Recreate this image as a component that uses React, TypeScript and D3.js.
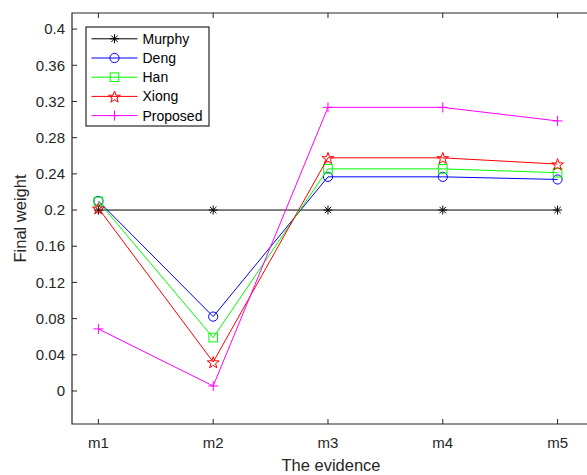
import React from "react";
import * as d3 from "d3";

// Evidence labels and final weights of each method
const evidence = ["m1", "m2", "m3", "m4", "m5"];
const murphy = [0.2, 0.2, 0.2, 0.2, 0.2];
const deng = [0.21, 0.0822, 0.2367, 0.2367, 0.2338];
const han = [0.2095, 0.059, 0.2455, 0.2455, 0.2413];
const xiong = [0.202, 0.032, 0.2577, 0.2577, 0.2508];
const proposed = [0.0686, 0.0055, 0.3135, 0.3135, 0.2985];
const yTicks = [0, 0.04, 0.08, 0.12, 0.16, 0.2, 0.24, 0.28, 0.32, 0.36, 0.4];
const yTickLabels = ["0", "0.04", "0.08", "0.12", "0.16", "0.2", "0.24", "0.28", "0.32", "0.36", "0.4"];

type Marker = "asterisk" | "circle" | "square" | "pentagram" | "plus";
const series: { name: string; values: number[]; color: string; marker: Marker }[] = [
  { name: "Murphy", values: murphy, color: "#000000", marker: "asterisk" },
  { name: "Deng", values: deng, color: "#0000ff", marker: "circle" },
  { name: "Han", values: han, color: "#00ff00", marker: "square" },
  { name: "Xiong", values: xiong, color: "#ff0000", marker: "pentagram" },
  { name: "Proposed", values: proposed, color: "#ff00ff", marker: "plus" },
];

const W = 587;
const H = 475;
const left = 72;
const right = 592;
const top = 13;
const bottom = 424;
const axisColor = "#262626";
const font = "'Liberation Sans', Arial, Helvetica, sans-serif";

const x = d3.scaleLinear().domain([0.77, 5.3]).range([left, right]);
const y = d3.scaleLinear().domain([-0.0365, 0.4178]).range([bottom, top]);

function pentagramPath(cx: number, cy: number, R: number, r: number) {
  const pts: [number, number][] = [];
  for (let i = 0; i < 10; i++) {
    const rad = i % 2 === 0 ? R : r;
    const a = -Math.PI / 2 + (i * Math.PI) / 5;
    pts.push([cx + rad * Math.cos(a), cy + rad * Math.sin(a)]);
  }
  return "M" + pts.map((p) => p.join(",")).join("L") + "Z";
}

function MarkerShape({ kind, cx, cy, color }: { kind: Marker; cx: number; cy: number; color: string }) {
  const common = { fill: "none", stroke: color, strokeWidth: 1 };
  switch (kind) {
    case "circle":
      return <circle cx={cx} cy={cy} r={4.6} {...common} />;
    case "square":
      return <rect x={cx - 4.3} y={cy - 4.3} width={8.6} height={8.6} {...common} />;
    case "pentagram":
      return <path d={pentagramPath(cx, cy + 0.8, 6.2, 2.5)} {...common} />;
    case "plus":
      return <path d={`M${cx - 5},${cy}H${cx + 5}M${cx},${cy - 5}V${cy + 5}`} {...common} />;
    case "asterisk": {
      const r = 4.5;
      const d2 = r * 0.72;
      return (
        <path
          d={`M${cx - r},${cy}H${cx + r}M${cx},${cy - r}V${cy + r}M${cx - d2},${cy - d2}L${cx + d2},${cy + d2}M${cx - d2},${cy + d2}L${cx + d2},${cy - d2}`}
          {...common}
        />
      );
    }
  }
}

export default function App() {
  const line = d3
    .line<number>()
    .x((_, i) => x(i + 1))
    .y((v) => y(v));

  const legendX = 86;
  const legendY = 27;
  const legendW = 123;
  const legendH = 99;
  const rowH = 19.2;

  return (
    <svg
      width={W}
      height={H}
      style={{ position: "absolute", left: 0, top: 0, background: "#fff" }}
      fontFamily={font}
    >
      <rect x={0} y={0} width={W} height={H} fill="#fff" />

      {/* series lines and markers */}
      {series.map((s) => (
        <g key={s.name}>
          <path d={line(s.values) ?? ""} fill="none" stroke={s.color} strokeWidth={1} />
          {s.values.map((v, i) => (
            <MarkerShape key={i} kind={s.marker} cx={x(i + 1)} cy={y(v)} color={s.color} />
          ))}
        </g>
      ))}

      {/* axes box */}
      <path
        d={`M${right},${top}H${left}V${bottom}H${right}`}
        fill="none"
        stroke={axisColor}
        strokeWidth={1.2}
      />

      {/* y ticks */}
      {yTicks.map((t, i) => (
        <g key={t}>
          <line x1={left} x2={left + 5} y1={y(t)} y2={y(t)} stroke={axisColor} strokeWidth={1} />
          <text
            x={65}
            y={y(t)}
            dy="0.35em"
            textAnchor="end"
            fontSize={15}
            fill={axisColor}
          >
            {yTickLabels[i]}
          </text>
        </g>
      ))}

      {/* x ticks */}
      {evidence.map((e, i) => (
        <g key={e}>
          <line x1={x(i + 1)} x2={x(i + 1)} y1={bottom} y2={bottom - 5} stroke={axisColor} strokeWidth={1} />
          <line x1={x(i + 1)} x2={x(i + 1)} y1={top} y2={top + 5} stroke={axisColor} strokeWidth={1} />
          <text x={x(i + 1)} y={448} textAnchor="middle" fontSize={15} fill={axisColor}>
            {e}
          </text>
        </g>
      ))}

      {/* axis labels */}
      <text x={331} y={471} textAnchor="middle" fontSize={16.5} fill={axisColor}>
        The evidence
      </text>
      <text
        transform={`translate(26,${(top + bottom) / 2}) rotate(-90)`}
        textAnchor="middle"
        fontSize={16.5}
        fill={axisColor}
      >
        Final weight
      </text>

      {/* legend */}
      <rect
        x={legendX}
        y={legendY}
        width={legendW}
        height={legendH}
        fill="#fff"
        stroke={axisColor}
        strokeWidth={1.2}
      />
      {series.map((s, i) => {
        const cy = legendY + 11.8 + i * rowH;
        return (
          <g key={s.name}>
            <line x1={91.5} x2={137.5} y1={cy} y2={cy} stroke={s.color} strokeWidth={1} />
            <MarkerShape kind={s.marker} cx={114.5} cy={cy} color={s.color} />
            <text x={142.5} y={cy} dy="0.35em" fontSize={14} fill="#000">
              {s.name}
            </text>
          </g>
        );
      })}
    </svg>
  );
}
